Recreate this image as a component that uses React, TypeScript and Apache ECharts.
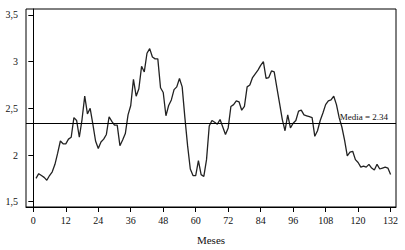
import React, { useEffect, useRef } from "react";
import * as echarts from "echarts";

// Monthly values (month 1..132)
const values: number[] = [
  1.75, 1.80, 1.78, 1.76, 1.73, 1.78, 1.82, 1.90, 2.02, 2.15,
  2.12, 2.12, 2.17, 2.19, 2.40, 2.37, 2.19, 2.38, 2.63, 2.44,
  2.50, 2.33, 2.15, 2.07, 2.14, 2.17, 2.22, 2.41, 2.36, 2.32,
  2.32, 2.10, 2.16, 2.23, 2.43, 2.53, 2.81, 2.63, 2.71, 2.95,
  2.89, 3.09, 3.14, 3.05, 3.03, 3.03, 2.72, 2.67, 2.42, 2.53,
  2.59, 2.70, 2.73, 2.82, 2.73, 2.40, 2.10, 1.85, 1.78, 1.78,
  1.94, 1.79, 1.77, 1.95, 2.31, 2.37, 2.35, 2.33, 2.38, 2.30,
  2.22, 2.29, 2.52, 2.54, 2.58, 2.57, 2.48, 2.52, 2.73, 2.75,
  2.83, 2.87, 2.91, 2.96, 3.00, 2.82, 2.83, 2.90, 2.89, 2.72,
  2.55, 2.38, 2.26, 2.43, 2.29, 2.34, 2.37, 2.47, 2.48, 2.43,
  2.42, 2.41, 2.40, 2.20, 2.26, 2.37, 2.45, 2.54, 2.58, 2.59,
  2.63, 2.54, 2.40, 2.30, 2.16, 1.99, 2.03, 2.04, 1.95, 1.92,
  1.87, 1.88, 1.87, 1.90, 1.86, 1.84, 1.90, 1.85, 1.86, 1.87,
  1.86, 1.79,
];
const months: number[] = values.map((_, i) => i + 1);
const xTicks: number[] = [0, 12, 24, 36, 48, 60, 72, 84, 96, 108, 120, 132];
const yTicks: number[] = [1.5, 2, 2.5, 3, 3.5];
const meanValue = 2.34;
const meanLabel = "Media = 2.34";
const xName = "Meses";

const FONT = "Liberation Serif";

export default function App() {
  const ref = useRef<HTMLDivElement>(null);
  useEffect(() => {
    if (!ref.current) return;
    const chart = echarts.init(ref.current, undefined, { renderer: "svg" });
    chart.setOption({
      animation: false,
      backgroundColor: "#fff",
      grid: {
        left: 26,
        right: 9,
        top: 9,
        bottom: 42,
        show: true,
        borderColor: "#000",
        borderWidth: 1,
      },
      xAxis: {
        type: "value",
        min: -2.7,
        max: 134,
        name: xName,
        nameLocation: "middle",
        nameGap: 27,
        nameTextStyle: { fontFamily: FONT, fontSize: 11, color: "#111" },
        axisLine: { show: true, lineStyle: { color: "#000", width: 1 } },
        axisTick: {
          show: true,
          inside: false,
          length: 5,
          customValues: xTicks,
          lineStyle: { color: "#000", width: 1 },
        },
        axisLabel: {
          customValues: xTicks,
          fontFamily: FONT,
          fontSize: 10,
          color: "#111",
          margin: 8,
        },
        splitLine: { show: false },
      },
      yAxis: {
        type: "value",
        min: 1.443,
        max: 3.564,
        axisLine: { show: true, lineStyle: { color: "#000", width: 1 } },
        axisTick: {
          show: true,
          inside: false,
          length: 5,
          customValues: yTicks,
          lineStyle: { color: "#000", width: 1 },
        },
        axisLabel: {
          customValues: yTicks,
          fontFamily: FONT,
          fontSize: 10,
          color: "#111",
          margin: 8,
          formatter: (v: number) => String(v).replace(".", ","),
        },
        splitLine: { show: false },
      },
      series: [
        {
          type: "line",
          data: months.map((m, i) => [m, values[i]]),
          showSymbol: false,
          symbol: "none",
          lineStyle: { color: "#222", width: 1.3 },
          silent: true,
          markLine: {
            silent: true,
            symbol: "none",
            lineStyle: { color: "#000", width: 1, type: "solid" },
            label: {
              show: true,
              position: "insideEndTop",
              formatter: meanLabel,
              fontFamily: FONT,
              fontSize: 9,
              color: "#111",
              distance: [8, 2],
            },
            data: [{ yAxis: meanValue }],
          },
        },
      ],
    });
    return () => chart.dispose();
  }, []);
  return (
    <div
      ref={ref}
      style={{ position: "absolute", left: 0, top: 0, width: 405, height: 250 }}
    />
  );
}
